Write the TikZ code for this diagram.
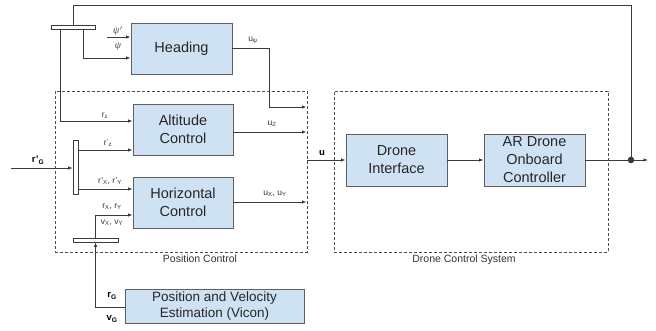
\documentclass[tikz,border=0pt]{standalone}
\usepackage{fontspec}
\setmainfont{Liberation Sans}
\newfontfamily\grkfont{Liberation Serif}
\usetikzlibrary{arrows.meta}
\definecolor{boxfill}{HTML}{CFE2F3}
\definecolor{boxdraw}{HTML}{5F5F5F}
\definecolor{ln}{HTML}{3A3A3A}
\begin{document}
\begin{tikzpicture}[x=1pt,y=-1pt,
  blk/.style={draw=boxdraw,fill=boxfill,line width=0.9pt,minimum width=#1,inner sep=0pt,font=\fontsize{14.5}{18}\selectfont,align=center,text=black!85},
  blk/.default=100pt,
  bar/.style={draw=ln,fill=white,line width=0.8pt,inner sep=0pt},
  con/.style={draw=ln,line width=0.8pt,-{Latex[length=4.5pt,width=3.5pt]}},
  lin/.style={draw=ln,line width=0.8pt},
  grp/.style={draw=ln!90,line width=0.7pt,dash pattern=on 3pt off 2pt},
  lbl/.style={font=\fontsize{8.5}{10}\selectfont,text=black!80,inner sep=0pt},
  glbl/.style={font=\fontsize{10.5}{12}\selectfont,text=black!80,inner sep=0pt},
  blbl/.style={font=\fontsize{9.5}{11}\selectfont\bfseries,text=black,inner sep=0pt}]
\useasboundingbox (0,0) rectangle (656,331);
% groups
\node[grp,minimum width=252pt,minimum height=161pt,inner sep=0pt] (pc) at (181,171.5) {};
\node[grp,minimum width=274pt,minimum height=161pt,inner sep=0pt] (dcs) at (471,171.5) {};
\node[glbl] (pclbl) at (200,259) {Position Control};
\node[glbl] (dcslbl) at (464,260) {Drone Control System};
% blocks
\node[blk=101pt,minimum height=51pt] (head) at (181.5,48.5) {Heading};
\node[blk,minimum height=51pt] (alt) at (183,129.5) {Altitude\\Control};
\node[blk,minimum height=51pt] (hor) at (183,202.5) {Horizontal\\Control};
\node[blk=179pt,minimum height=34pt,font=\fontsize{13.5}{16}\selectfont] (pos) at (214.5,306) {Position and Velocity\\Estimation (Vicon)};
\node[blk=101pt,minimum height=52pt] (di) at (396.5,160) {Drone\\Interface};
\node[blk=101pt,minimum height=52pt] (ar) at (534.5,160) {AR Drone\\Onboard\\Controller};
% bars
\node[bar,minimum width=44pt,minimum height=4pt] (tbar) at (73,27) {};
\node[bar,minimum width=5pt,minimum height=54pt] (mux) at (75.5,167) {};
\node[bar,minimum width=45pt,minimum height=4pt] (bbar) at (95.5,240) {};
\fill[ln] (631,160) circle (3.3pt) coordinate (dot);
% coordinates
\coordinate (psiin) at (107,37);
\coordinate (rgin) at (11,168);
\coordinate (uend) at (307,160);
\coordinate (outend) at (648,160);
% connectors
\draw[lin] (dot) -- (631,5) -| (tbar.north);
\draw[con] ([xshift=-13pt]tbar.south) |- (alt.west |- 0,121);
\draw[con] ([xshift=10pt]tbar.south) |- (head.west |- 0,58);
\draw[con] (psiin) -- (head.west |- psiin);
\draw[con] (head.east |- 0,48) -| (269,107) -- (306.5,107);
\draw[con] (alt.east |- 0,132) -- (306.5,132);
\draw[con] (hor.east |- 0,202) -- (306.5,202);
\draw[con] (rgin) -- (mux.west |- rgin);
\draw[con] (mux.east |- 0,150) -- (alt.west |- 0,150);
\draw[con] (mux.east |- 0,189) -- (hor.west |- 0,189);
\draw[con] (bbar.north) |- (hor.west |- 0,215);
\draw[con] (pos.west |- 0,307) -| (bbar.south);
\draw[con] (uend) -- (di.west);
\draw[con] (di.east) -- (ar.west);
\draw[lin] (ar.east) -- (dot);
\draw[con] (dot) -- (outend);
% labels
\node[font=\fontsize{10}{12}\selectfont\grkfont\itshape,text=black!75] (l1) at (118,31) {ψ\kern0.5pt$'$};
\node[font=\fontsize{10}{12}\selectfont\grkfont\itshape,text=black!75] (l2) at (118,47) {ψ};
\node[lbl] (l3) at (253,40) {u\textsubscript{ψ}};
\node[lbl] (l4) at (105,116) {r\textsubscript{z}};
\node[lbl] (l5) at (108,143) {r\textsuperscript{'}\textsubscript{z}};
\node[blbl] (l6) at (38,160) {r'\textsubscript{G}};
\node[lbl] (l7) at (110,181) {r'\textsubscript{X}, r'\textsubscript{Y}};
\node[lbl] (l8) at (112,207) {r\textsubscript{X}, r\textsubscript{Y}};
\node[lbl] (l9) at (112,223) {v\textsubscript{X}, v\textsubscript{Y}};
\node[lbl] (l10) at (272,124) {u\textsubscript{Z}};
\node[lbl] (l11) at (275,194) {u\textsubscript{X}, u\textsubscript{Y}};
\node[blbl] (l12) at (322,153) {u};
\node[blbl] (l13) at (112,296) {r\textsubscript{G}};
\node[blbl] (l14) at (112,319) {v\textsubscript{G}};
\end{tikzpicture}
\end{document}
